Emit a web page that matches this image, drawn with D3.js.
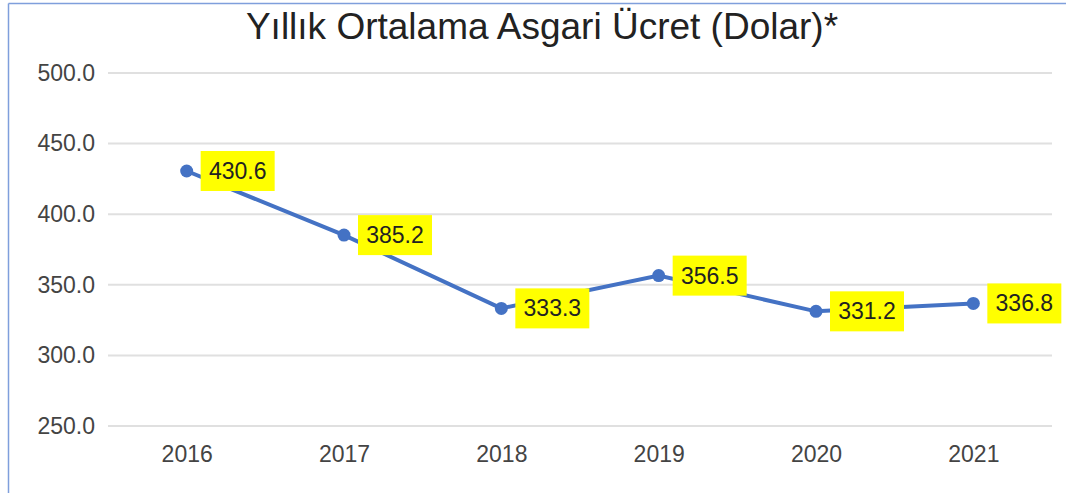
<!DOCTYPE html>
<html>
<head>
<meta charset="utf-8">
<script src="https://cdn.jsdelivr.net/npm/d3@7"></script>
<style>
  body { margin: 0; background: #fff; }
  svg { display: block; font-family: "Liberation Sans", Arial, sans-serif; }
</style>
</head>
<body>
<svg id="chart"></svg>
<script>
const width = 1066, height = 493;
const margin = { top: 73, right: 14, bottom: 67, left: 108 };
const plotWidth = width - margin.left - margin.right;
const plotHeight = height - margin.top - margin.bottom;

// Data
const years = ["2016", "2017", "2018", "2019", "2020", "2021"];
const wages = [430.6, 385.2, 333.3, 356.5, 331.2, 336.8];
const yTicks = [250, 300, 350, 400, 450, 500];
const title = "Yıllık Ortalama Asgari Ücret (Dolar)*";

const svg = d3.select("#chart")
    .attr("width", width)
    .attr("height", height);

// frame (left + top edges visible)
svg.append("line").attr("x1", 8.5).attr("x2", 8.5).attr("y1", 3.5).attr("y2", height)
    .attr("stroke", "#7f9fdc").attr("stroke-width", 1.5);
svg.append("line").attr("x1", 8.5).attr("x2", width).attr("y1", 3.5).attr("y2", 3.5)
    .attr("stroke", "#7f9fdc").attr("stroke-width", 1.5);

const g = svg.append("g")
    .attr("transform", `translate(${margin.left},${margin.top})`);

const xScale = d3.scalePoint().domain(years).range([0, plotWidth]).padding(0.5);
const yScale = d3.scaleLinear().domain([250, 500]).range([plotHeight, 0]);

// Gridlines
g.append("g")
    .selectAll("line")
    .data(yTicks)
    .enter()
    .append("line")
    .attr("x1", 0)
    .attr("x2", plotWidth)
    .attr("y1", d => yScale(d))
    .attr("y2", d => yScale(d))
    .attr("stroke", "#e0e0e0")
    .attr("stroke-width", 2);

// Y axis labels
const yAxis = g.append("g")
    .call(d3.axisLeft(yScale).tickValues(yTicks).tickFormat(d3.format(".1f")).tickSize(0).tickPadding(13));
yAxis.select(".domain").remove();
yAxis.selectAll("text")
    .attr("fill", "#444")
    .style("font-size", "23px")
    .style("font-family", "Liberation Sans, Arial, sans-serif");

// X axis labels
const xAxis = g.append("g")
    .attr("transform", `translate(0,${plotHeight})`)
    .call(d3.axisBottom(xScale).tickSize(0).tickPadding(20));
xAxis.select(".domain").remove();
xAxis.selectAll("text")
    .attr("fill", "#444")
    .style("font-size", "23px")
    .style("font-family", "Liberation Sans, Arial, sans-serif");

// Line
const pts = years.map((y, i) => ({ year: y, value: wages[i] }));
g.append("path")
    .datum(pts)
    .attr("fill", "none")
    .attr("stroke", "#4472c4")
    .attr("stroke-width", 4)
    .attr("d", d3.line().x(d => xScale(d.year)).y(d => yScale(d.value)));

g.selectAll(".dot")
    .data(pts)
    .enter()
    .append("circle")
    .attr("class", "dot")
    .attr("cx", d => xScale(d.year))
    .attr("cy", d => yScale(d.value))
    .attr("r", 6.5)
    .attr("fill", "#4472c4");

// Data labels
const labels = g.selectAll(".lbl")
    .data(pts)
    .enter()
    .append("g")
    .attr("class", "lbl")
    .attr("transform", d => `translate(${xScale(d.year) + 14},${yScale(d.value)})`);

labels.append("rect")
    .attr("x", 0)
    .attr("y", -20)
    .attr("width", 74)
    .attr("height", 40)
    .attr("fill", "#ffff00");

labels.append("text")
    .attr("x", 37)
    .attr("y", 8)
    .attr("text-anchor", "middle")
    .attr("fill", "#222")
    .style("font-size", "23px")
    .text(d => d.value.toFixed(1));

// Title
svg.append("text")
    .attr("x", 542)
    .attr("y", 39)
    .attr("text-anchor", "middle")
    .attr("fill", "#222")
    .style("font-size", "37px")
    .text(title);
</script>
</body>
</html>
